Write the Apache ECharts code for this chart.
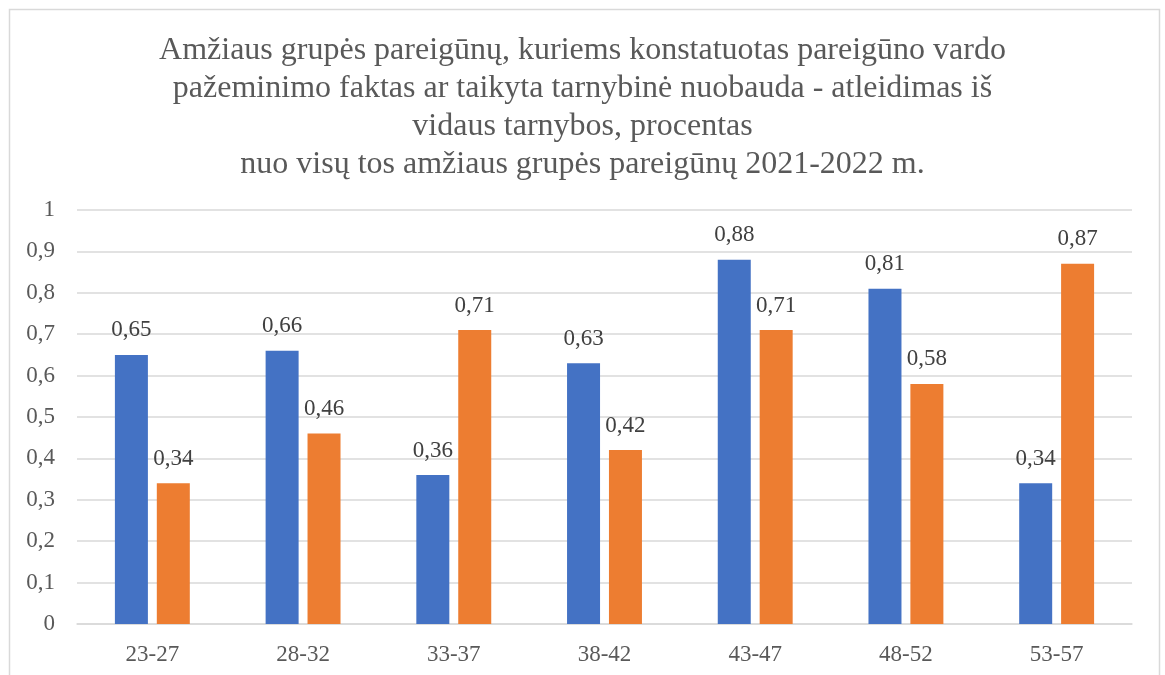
<!DOCTYPE html>
<html>
<head>
<meta charset="utf-8" />
<title>Amžiaus grupės</title>
<script type="text/javascript" src="https://cdn.jsdelivr.net/npm/echarts@6/dist/echarts.min.js"></script>
<style>
html, body { margin: 0; padding: 0; background: #fff; }
#chart { width: 1165px; height: 675px; }
</style>
</head>
<body>
<div id="chart"></div>
<script type="text/javascript">
// amžiaus grupės
var categories = ['23-27', '28-32', '33-37', '38-42', '43-47', '48-52', '53-57'];
// dvi serijos (mėlyna ir oranžinė)
var seriesA = [0.65, 0.66, 0.36, 0.63, 0.88, 0.81, 0.34];
var seriesB = [0.34, 0.46, 0.71, 0.42, 0.71, 0.58, 0.87];
var yTicks = { min: 0, max: 1, interval: 0.1 };

var titleText = 'Amžiaus grupės pareigūnų, kuriems konstatuotas pareigūno vardo\n' +
    'pažeminimo faktas ar taikyta tarnybinė nuobauda - atleidimas iš\n' +
    'vidaus tarnybos, procentas\n' +
    'nuo visų tos amžiaus grupės pareigūnų 2021-2022 m.';

function comma(v) {
    return String(v).replace('.', ',');
}

var serif = '"Liberation Serif", "DejaVu Serif", serif';

var myChart = echarts.init(document.getElementById('chart'));
myChart.setOption({
    animation: false,
    color: ['#4472C4', '#ED7D31'],
    title: {
        text: titleText,
        left: 'center',
        top: 27,
        textStyle: {
            fontFamily: serif,
            fontSize: 32,
            fontWeight: 'normal',
            color: '#595959',
            lineHeight: 38
        }
    },
    legend: { show: false },
    graphic: [{
        type: 'rect',
        shape: { x: 9.5, y: 9.5, width: 1150, height: 700 },
        style: { fill: 'none', stroke: '#d9d9d9', lineWidth: 1.5 },
        silent: true
    }],
    grid: {
        left: 77,
        right: 33,
        top: 210,
        bottom: 51
    },
    xAxis: {
        type: 'category',
        data: categories,
        axisTick: { show: false },
        axisLine: { lineStyle: { color: '#d9d9d9', width: 1.5 } },
        axisLabel: {
            fontFamily: serif,
            fontSize: 23,
            color: '#595959',
            margin: 19
        }
    },
    yAxis: {
        type: 'value',
        min: yTicks.min,
        max: yTicks.max,
        interval: yTicks.interval,
        axisLine: { show: false },
        axisTick: { show: false },
        splitLine: { lineStyle: { color: '#d9d9d9', width: 1.5 } },
        axisLabel: {
            fontFamily: serif,
            fontSize: 23,
            color: '#595959',
            margin: 22,
            formatter: function (v) { return comma(Math.round(v * 10) / 10); }
        }
    },
    series: [{
        name: '2021 m.',
        type: 'bar',
        data: seriesA,
        barWidth: 33,
        barGap: '27%',
        label: {
            show: true,
            position: 'top',
            distance: 13,
            fontFamily: serif,
            fontSize: 23,
            color: '#404040',
            formatter: function (p) { return comma(p.value); }
        }
    }, {
        name: '2022 m.',
        type: 'bar',
        data: seriesB,
        barWidth: 33,
        label: {
            show: true,
            position: 'top',
            distance: 13,
            fontFamily: serif,
            fontSize: 23,
            color: '#404040',
            formatter: function (p) { return comma(p.value); }
        }
    }]
});
</script>
</body>
</html>
